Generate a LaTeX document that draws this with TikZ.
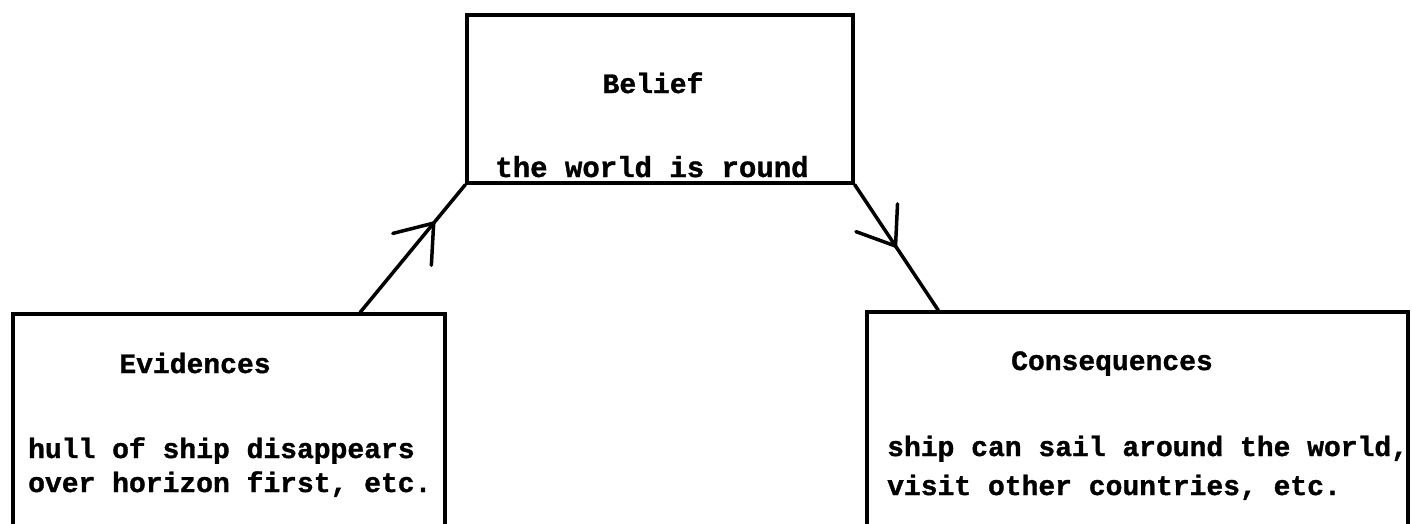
\documentclass[tikz,border=0pt]{standalone}
\usepackage{fontspec}
\newfontfamily\tw{Liberation Mono}[BoldFeatures={FakeBold=1.2}]
\usetikzlibrary{arrows.meta,decorations.markings}
\tikzset{
  box/.style={draw, line width=3.5pt, rectangle, inner sep=0pt},
  lbl/.style={font=\tw\bfseries\fontsize{28}{34}\selectfont, inner sep=0pt},
  biglbl/.style={font=\tw\bfseries\fontsize{29}{34}\selectfont, inner sep=0pt},
  conn/.style={line width=3.5pt, line cap=round, postaction={decorate}},
  midarrow/.style={decoration={markings, mark=at position #1 with {\arrow{Straight Barb[length=34pt,width=50pt,line width=3.5pt,round]}}}}
}
\begin{document}
\begin{tikzpicture}[x=1pt,y=-1pt]
\useasboundingbox (0,0) rectangle (1412,523);
\clip (0,0) rectangle (1412,523);
\fill[white] (0,0) rectangle (1412,523);
% boxes
\node[box, minimum width=386pt, minimum height=168pt] (belief) at (660,99) {};
\node[box, minimum width=432pt, minimum height=230pt] (evid) at (229,429) {};
\node[box, minimum width=541pt, minimum height=232pt] (conseq) at (1137.5,428) {};
% texts
\node[lbl, anchor=base] (belieft) at (653,93) {Belief};
\node[biglbl, anchor=base] (beliefb) at (652,177) {the world is round};
\node[lbl, anchor=base] (evidt) at (195,373) {Evidences};
\node[lbl, anchor=base west] (evida) at (28,458) {hull of ship disappears};
\node[lbl, anchor=base west] (evidb) at (28,492) {over horizon first, etc.};
\node[lbl, anchor=base] (conseqt) at (1112,370) {Consequences};
\node[lbl, anchor=base west] (conseqa) at (887,456) {ship can sail around the world,};
\node[lbl, anchor=base west] (conseqb) at (887,495) {visit other countries, etc.};
% connectors
\draw[conn, midarrow=0.71] ([xshift=349pt]evid.north west) -- (belief.south west);
\draw[conn, midarrow=0.50] (belief.south east) -- ([xshift=73pt]conseq.north west);
\end{tikzpicture}
\end{document}
